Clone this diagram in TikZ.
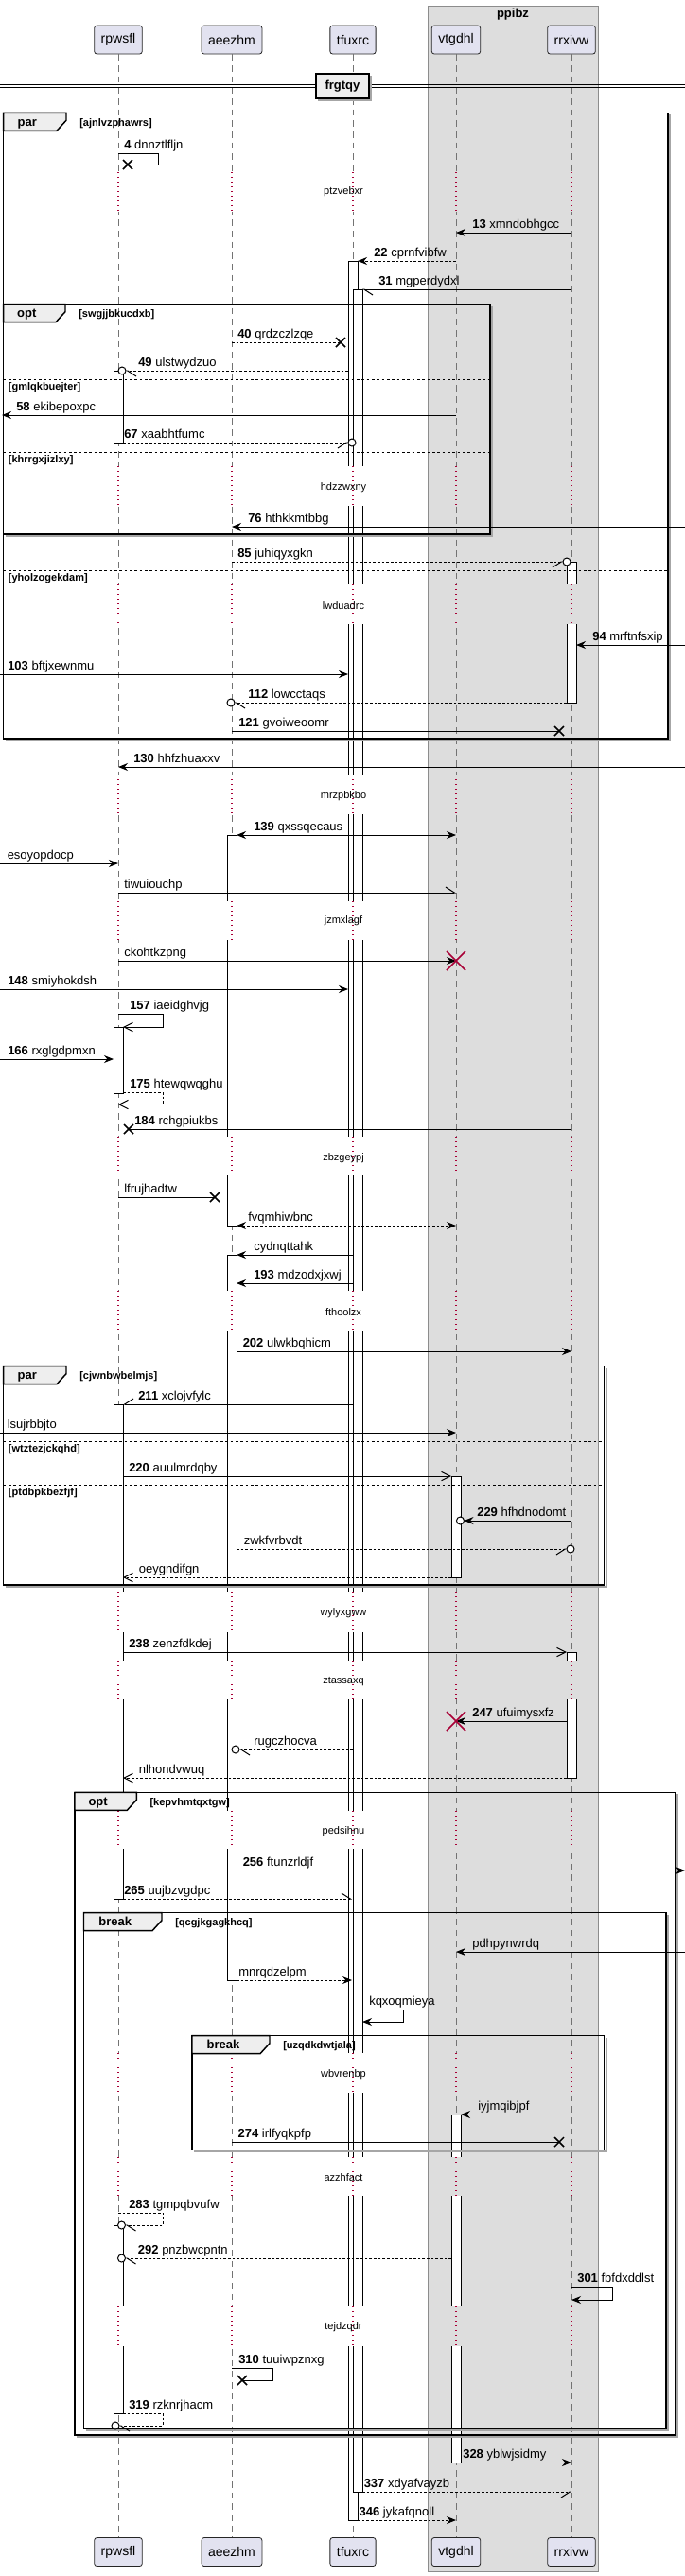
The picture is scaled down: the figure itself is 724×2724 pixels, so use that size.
\documentclass[tikz,border=0pt]{standalone}
\usepackage{fontspec}
\setmainfont{Liberation Sans}
\usetikzlibrary{arrows.meta}
\definecolor{partfill}{HTML}{E2E2F0}
\definecolor{boxgray}{HTML}{DDDDDD}
\definecolor{tabgray}{HTML}{EEEEEE}
\definecolor{delayred}{HTML}{A80036}
\newcommand{\msgfont}{\fontsize{9.75}{11}\selectfont}
\newcommand{\smallfont}{\fontsize{8.25}{10}\selectfont}
\tikzset{%
  % Specifications for style of nodes:
    participant/.style = {rectangle, rounded corners=2pt, draw=black!85,
                          fill=partfill, line width=0.6pt, minimum height=22.5pt,
                          inner xsep=5.25pt, font=\fontsize{10.5}{12}\selectfont},
         msglbl/.style = {anchor=base west, inner sep=0pt, font=\msgfont},
       delaylbl/.style = {inner sep=0pt, font=\smallfont},
        kindlbl/.style = {anchor=base, inner sep=0pt, font=\msgfont\bfseries},
       guardlbl/.style = {anchor=base west, inner sep=0pt, font=\smallfont\bfseries},
  % Specifications for style of lines:
       lifeline/.style = {draw=black!55, line width=0.5pt, dash pattern=on 5pt off 3.75pt},
         actbar/.style = {draw=black, fill=white, line width=0.75pt},
      delayline/.style = {draw=delayred, line width=0.8pt, dash pattern=on 0.75pt off 3pt},
      frameline/.style = {draw=black, line width=1.1pt},
    frameshadow/.style = {draw=black!35, line width=1.3pt},
       elseline/.style = {draw=black, line width=0.75pt, dash pattern=on 2pt off 2pt},
            msg/.style = {draw=black, line width=0.75pt},
            ret/.style = {msg, dash pattern=on 2pt off 1.5pt},
       fullhead/.style = {-{Stealth[length=7.5pt,width=6pt,inset=2.5pt]}},
           both/.style = {{Stealth[length=7.5pt,width=6pt,inset=2.5pt]}-{Stealth[length=7.5pt,width=6pt,inset=2.5pt]}},
       openhead/.style = {-{Straight Barb[length=7pt,width=7pt]}},
          halfl/.style = {-{Straight Barb[left,length=7pt,width=9pt]}},
          halfr/.style = {-{Straight Barb[right,length=7pt,width=9pt]}},
}
% lifeline positions (px)
\def\xrp{125}
\def\xae{245}
\def\xtf{373}
\def\xvt{482}
\def\xrr{604}
% x1 y1 x2 y2 tabwidth kind guard name
\newcommand{\umlframe}[8]{%
  \draw[frameshadow] (#1+2,#4+2) -- (#3+2,#4+2) -- (#3+2,#2+2);
  \draw[frameline] (#1,#2) rectangle (#3,#4);
  \draw[frameline, fill=tabgray] (#1,#2) -- (#1+#5,#2) -- (#1+#5,#2+8)
       -- (#1+#5-10,#2+19) -- (#1,#2+19) -- cycle;
  \node[kindlbl] (#8-kind) at (#1+#5/2-8,#2+14) {#6};
  \node[guardlbl] (#8-guard) at (#1+#5+14,#2+14) {[#7]};
}
% x1 x2 y guard name
\newcommand{\umlelse}[5]{%
  \draw[elseline] (#1,#3) -- (#2,#3);
  \node[guardlbl] (#5) at (#1+5,#3+11.5) {[#4]};
}
\newcommand{\xend}[2]{\draw[line width=1.1pt] (#1-5,#2-5) -- (#1+5,#2+5) (#1-5,#2+5) -- (#1+5,#2-5);}
\newcommand{\killx}[2]{\draw[delayred, line width=1.1pt] (#1-10,#2-10) -- (#1+10,#2+10) (#1-10,#2+10) -- (#1+10,#2-10);}
\newcommand{\ocirc}[2]{\draw[msg, fill=white] (#1,#2) circle (3pt);}

\begin{document}
\begin{tikzpicture}[x=0.75pt, y=-0.75pt]
  \useasboundingbox (0,0) rectangle (724,2724);
  % box round the last two participants
  \fill[boxgray] (452,6) rectangle (632,2719);
  \draw[black!45, line width=0.5pt] (452,6) rectangle (632,2719);
  \node[font=\msgfont\bfseries] (ppibz) at (542,15) {ppibz};
  % participants, top and bottom
  \node[participant] (rpwsflTop) at (\xrp,42) {rpwsfl};
  \node[participant] (aeezhmTop) at (\xae,42) {aeezhm};
  \node[participant] (tfuxrcTop) at (\xtf,42) {tfuxrc};
  \node[participant] (vtgdhlTop) at (\xvt,42) {vtgdhl};
  \node[participant] (rrxivwTop) at (\xrr,42) {rrxivw};
  \node[participant] (rpwsflBot) at (\xrp,2698.5) {rpwsfl};
  \node[participant] (aeezhmBot) at (\xae,2698.5) {aeezhm};
  \node[participant] (tfuxrcBot) at (\xtf,2698.5) {tfuxrc};
  \node[participant] (vtgdhlBot) at (\xvt,2698.5) {vtgdhl};
  \node[participant] (rrxivwBot) at (\xrr,2698.5) {rrxivw};
  \foreach \p in {rpwsfl,aeezhm,tfuxrc,vtgdhl,rrxivw}
    \draw[lifeline] (\p Top) -- (\p Bot);
  % activations
  \draw[actbar] (\xtf-5,276) rectangle (\xtf+5,2665);
  \draw[actbar] (\xtf,306) rectangle (\xtf+10,2635);
  \draw[actbar] (120,392) rectangle (130,468);
  \draw[actbar] (120,1086) rectangle (130,1156);
  \draw[actbar] (120,1485) rectangle (130,2008);
  \draw[actbar] (120,2353) rectangle (130,2552);
  \draw[actbar] (240,883) rectangle (250,1296);
  \draw[actbar] (240,1327) rectangle (250,2094);
  \draw[actbar] (599,594) rectangle (609,743);
  \draw[actbar] (599,1747) rectangle (609,1880);
  \draw[actbar] (477,1561) rectangle (487,1668);
  \draw[actbar] (477,2236) rectangle (487,2604);
  % delays
  \foreach \ya/\yb/\yt/\dtxt [count=\i] in {182/224/203/ptzvebxr, 493/535/515.7/hdzzwxny,
      618/660/640.7/lwduadrc, 819/861/841.3/mrzpbkbo, 953/994/974/jzmxlagf,
      1202/1243/1225/zbzgeypj, 1365/1407/1387.3/fthoolzx, 1683/1726/1705.7/wylyxgww,
      1756/1797/1777.7/ztassaxq, 1915/1955/1936.7/pedsihnu, 2171/2213/2193.3/wbvrenbp,
      2281/2322/2302.3/azzhfact, 2439/2481/2461/tejdzqdr} {
    \foreach \lx in {\xrp,\xae,\xtf} \fill[white] (\lx-7,\ya) rectangle (\lx+11,\yb);
    \foreach \lx in {\xvt,\xrr} \fill[boxgray] (\lx-7,\ya) rectangle (\lx+11,\yb);
    \foreach \lx in {\xrp,\xae,\xtf,\xvt,\xrr} \draw[delayline] (\lx,\ya) -- (\lx,\yb);
    \node[delaylbl] (delay\i) at (363,\yt) {\dtxt};
  }
  % separator
  \draw[msg] (0,89.3) -- (724,89.3) (0,92.7) -- (724,92.7);
  \draw[frameshadow] (336,106) -- (392,106) -- (392,80);
  \node[draw=black, line width=1.1pt, fill=tabgray, minimum width=42pt, minimum height=19.5pt,
        inner sep=0pt, font=\msgfont\bfseries] (frgtqy) at (362,91) {frgtqy};

  % par ajnlvzphawrs
  \umlframe{3.7}{119.3}{705.8}{781}{66.3}{par}{ajnlvzphawrs}{par1}
  \draw[msg] (\xrp,162) -- (167,162) -- (167,174) -- (135,174); \xend{135}{174}
  \node[msglbl] (m4) at (131,157) {\textbf{4} dnnztlfljn};
  \draw[msg, fullhead] (\xrr,246) -- (\xvt,246);
  \node[msglbl] (m13) at (499,241) {\textbf{13} xmndobhgcc};
  \draw[ret, fullhead] (\xvt,276) -- (378,276);
  \node[msglbl] (m22) at (395,271) {\textbf{22} cprnfvibfw};
  \draw[msg, halfl] (\xrr,306) -- (383,306);
  \node[msglbl] (m31) at (400,301) {\textbf{31} mgperdydxl};
  % opt swgjjbkucdxb
  \umlframe{3.7}{321.7}{518}{565}{65.3}{opt}{swgjjbkucdxb}{opt1}
  \draw[ret] (\xae,362) -- (360,362); \xend{360}{362}
  \node[msglbl] (m40) at (251,357) {\textbf{40} qrdzczlzqe};
  \draw[ret, halfl] (368,392) -- (133,392); \ocirc{129}{392}
  \node[msglbl] (m49) at (146,387) {\textbf{49} ulstwydzuo};
  \umlelse{3.7}{518}{401}{gmlqkbuejter}{opt1-else1}
  \draw[msg, fullhead] (\xvt,439) -- (2,439);
  \node[msglbl] (m58) at (17,434) {\textbf{58} ekibepoxpc};
  \draw[ret, halfr] (130,468) -- (368,468); \ocirc{372}{468}
  \node[msglbl] (m67) at (131,463) {\textbf{67} xaabhtfumc};
  \umlelse{3.7}{518}{478.3}{khrrgxjizlxy}{opt1-else2}
  \draw[msg, fullhead] (724,557) -- (\xae,557);
  \node[msglbl] (m76) at (262,552) {\textbf{76} hthkkmtbbg};
  \draw[ret, halfr] (\xae,594) -- (595,594); \ocirc{599}{594}
  \node[msglbl] (m85) at (251,589) {\textbf{85} juhiqyxgkn};
  \umlelse{3.7}{705.8}{603.3}{yholzogekdam}{par1-else}
  \draw[msg, fullhead] (724,682) -- (609,682);
  \node[msglbl] (m94) at (626,677) {\textbf{94} mrftnfsxip};
  \draw[msg, fullhead] (0,713) -- (368,713);
  \node[msglbl] (m103) at (8,708) {\textbf{103} bftjxewnmu};
  \draw[ret, halfl] (599,743) -- (248,743); \ocirc{244}{743}
  \node[msglbl] (m112) at (262,738) {\textbf{112} lowcctaqs};
  \draw[msg] (\xae,773) -- (591,773); \xend{591}{773}
  \node[msglbl] (m121) at (252,768) {\textbf{121} gvoiweoomr};

  \draw[msg, fullhead] (724,811) -- (\xrp,811);
  \node[msglbl] (m130) at (141,806) {\textbf{130} hhfzhuaxxv};
  \draw[msg, both] (250,883) -- (\xvt,883);
  \node[msglbl] (m139) at (268,878) {\textbf{139} qxssqecaus};
  \draw[msg, fullhead] (0,913) -- (\xrp,913);
  \node[msglbl] (esoyopdocp) at (7.5,908) {esoyopdocp};
  \draw[msg, halfl] (\xrp,944) -- (\xvt,944);
  \node[msglbl] (tiwuiouchp) at (131,939) {tiwuiouchp};
  \draw[msg, fullhead] (\xrp,1016) -- (\xvt,1016); \killx{\xvt}{1016}
  \node[msglbl] (ckohtkzpng) at (131,1011) {ckohtkzpng};
  \draw[msg, fullhead] (0,1046) -- (368,1046);
  \node[msglbl] (m148) at (8,1041) {\textbf{148} smiyhokdsh};
  \draw[msg, openhead] (\xrp,1072) -- (172,1072) -- (172,1086) -- (130,1086);
  \node[msglbl] (m157) at (137,1067) {\textbf{157} iaeidghvjg};
  \draw[msg, fullhead] (0,1120) -- (120,1120);
  \node[msglbl] (m166) at (8,1115) {\textbf{166} rxglgdpmxn};
  \draw[ret, openhead] (130,1155) -- (172,1155) -- (172,1168) -- (\xrp,1168);
  \node[msglbl] (m175) at (137,1150) {\textbf{175} htewqwqghu};
  \draw[msg] (\xrr,1194) -- (136,1194); \xend{136}{1194}
  \node[msglbl] (m184) at (142,1189) {\textbf{184} rchgpiukbs};
  \draw[msg] (\xrp,1266) -- (227,1266); \xend{227}{1266}
  \node[msglbl] (lfrujhadtw) at (131,1261) {lfrujhadtw};
  \draw[ret, both] (250,1296) -- (\xvt,1296);
  \node[msglbl] (fvqmhiwbnc) at (262,1291) {fvqmhiwbnc};
  \draw[msg, fullhead] (\xtf,1327) -- (250,1327);
  \node[msglbl] (cydnqttahk) at (268,1322) {cydnqttahk};
  \draw[msg, fullhead] (\xtf,1357) -- (250,1357);
  \node[msglbl] (m193) at (268,1352) {\textbf{193} mdzodxjxwj};
  \draw[msg, fullhead] (250,1429) -- (\xrr,1429);
  \node[msglbl] (m202) at (256.5,1424) {\textbf{202} ulwkbqhicm};
  % par cjwnbwbelmjs
  \umlframe{3.7}{1444.7}{638.7}{1676}{66.3}{par}{cjwnbwbelmjs}{par2}
  \draw[msg, halfr] (\xtf,1485) -- (130,1485);
  \node[msglbl] (m211) at (146,1480) {\textbf{211} xclojvfylc};
  \draw[msg, fullhead] (0,1515) -- (\xvt,1515);
  \node[msglbl] (lsujrbbjto) at (7.5,1510) {lsujrbbjto};
  \umlelse{3.7}{638.7}{1524}{wtztezjckqhd}{par2-else1}
  \draw[msg, openhead] (130,1561) -- (477,1561);
  \node[msglbl] (m220) at (136,1556) {\textbf{220} auulmrdqby};
  \umlelse{3.7}{638.7}{1570.3}{ptdbpkbezfjf}{par2-else2}
  \draw[msg, fullhead] (\xrr,1608) -- (490.5,1608); \ocirc{486.5}{1608}
  \node[msglbl] (m229) at (504,1603) {\textbf{229} hfhdnodomt};
  \draw[ret, halfr] (250,1638) -- (599,1638); \ocirc{603}{1638}
  \node[msglbl] (zwkfvrbvdt) at (257.5,1633) {zwkfvrbvdt};
  \draw[ret, openhead] (477,1668) -- (130,1668);
  \node[msglbl] (oeygndifgn) at (146.6,1663) {oeygndifgn};

  \draw[msg, openhead] (130,1747) -- (599,1747);
  \node[msglbl] (m238) at (136,1742) {\textbf{238} zenzfdkdej};
  \draw[msg, fullhead] (599,1820) -- (\xvt,1820); \killx{\xvt}{1820}
  \node[msglbl] (m247) at (499,1815) {\textbf{247} ufuimysxfz};
  \draw[ret, halfl] (\xtf,1850) -- (253,1850); \ocirc{249}{1850}
  \node[msglbl] (rugczhocva) at (268,1845) {rugczhocva};
  \draw[ret, openhead] (599,1880) -- (130,1880);
  \node[msglbl] (nlhondvwuq) at (146.6,1875) {nlhondvwuq};
  % opt kepvhmtqxtgw
  \umlframe{79}{1895.3}{714}{2575}{65.3}{opt}{kepvhmtqxtgw}{opt2}
  \draw[msg, fullhead] (250,1978) -- (724,1978);
  \node[msglbl] (m256) at (256.5,1973) {\textbf{256} ftunzrldjf};
  \draw[ret, halfl] (130,2008) -- (372,2008);
  \node[msglbl] (m265) at (131,2003) {\textbf{265} uujbzvgdpc};
  % break qcgjkgagkhcq
  \umlframe{88.5}{2022.7}{704}{2568.3}{82.5}{break}{qcgjkgagkhcq}{break1}
  \draw[msg, fullhead] (724,2064) -- (\xvt,2064);
  \node[msglbl] (pdhpynwrdq) at (499,2059) {pdhpynwrdq};
  \draw[ret, fullhead] (250,2094) -- (372,2094);
  \node[msglbl] (mnrqdzelpm) at (252,2089) {mnrqdzelpm};
  \draw[msg, fullhead] (383,2125) -- (426,2125) -- (426,2138) -- (383,2138);
  \node[msglbl] (kqxoqmieya) at (390,2120) {kqxoqmieya};
  % break uzqdkdwtjala
  \umlframe{203}{2152.7}{638.7}{2273.3}{82}{break}{uzqdkdwtjala}{break2}
  \draw[msg, fullhead] (\xrr,2236) -- (487,2236);
  \node[msglbl] (iyjmqibjpf) at (505,2231) {iyjmqibjpf};
  \draw[msg] (\xae,2265) -- (591,2265); \xend{591}{2265}
  \node[msglbl] (m274) at (251.4,2260) {\textbf{274} irlfyqkpfp};

  \draw[ret, halfl] (\xrp,2340) -- (172,2340) -- (172,2353) -- (132.5,2353); \ocirc{128.5}{2353}
  \node[msglbl] (m283) at (136,2335) {\textbf{283} tgmpqbvufw};
  \draw[ret, halfl] (477,2388) -- (132.5,2388); \ocirc{128.5}{2388}
  \node[msglbl] (m292) at (145.7,2383) {\textbf{292} pnzbwcpntn};
  \draw[msg, fullhead] (\xrr,2418) -- (647,2418) -- (647,2432) -- (\xrr,2432);
  \node[msglbl] (m301) at (610,2413) {\textbf{301} fbfdxddlst};
  \draw[msg] (\xae,2504) -- (288,2504) -- (288,2517) -- (256,2517); \xend{256}{2517}
  \node[msglbl] (m310) at (252,2499) {\textbf{310} tuuiwpznxg};
  \draw[ret, halfl] (130,2552) -- (172,2552) -- (172,2565) -- (126,2565); \ocirc{122}{2565}
  \node[msglbl] (m319) at (136,2547) {\textbf{319} rzknrjhacm};

  \draw[ret, fullhead] (487,2604) -- (\xrr,2604);
  \node[msglbl] (m328) at (489,2599) {\textbf{328} yblwjsidmy};
  \draw[ret, halfr] (383,2635) -- (\xrr,2635);
  \node[msglbl] (m337) at (384.5,2630) {\textbf{337} xdyafvayzb};
  \draw[ret, fullhead] (378,2665) -- (\xvt,2665);
  \node[msglbl] (m346) at (379.4,2660) {\textbf{346} jykafqnoll};
\end{tikzpicture}
\end{document}
